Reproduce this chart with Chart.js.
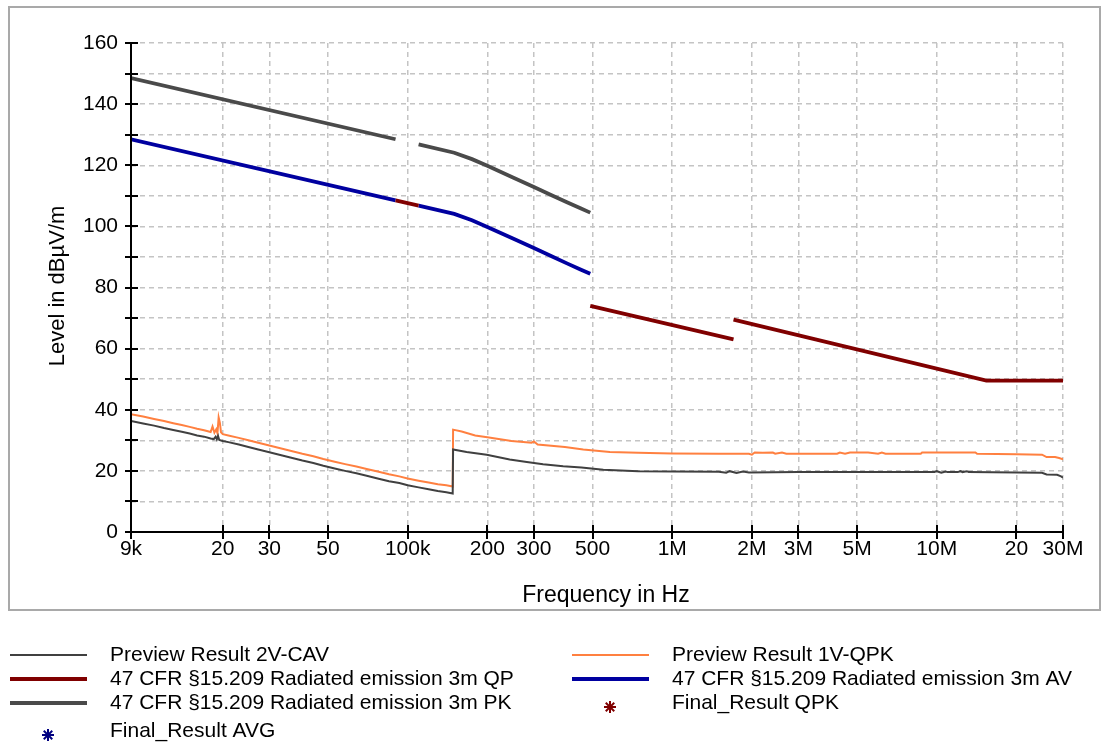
<!DOCTYPE html>
<html>
<head>
<meta charset="utf-8">
<script src="https://cdn.jsdelivr.net/npm/chart.js@4.4.1/dist/chart.umd.min.js"></script>
<style>
  html, body { margin: 0; padding: 0; background: #fff; }
  canvas { display: block; }
</style>
</head>
<body>
<canvas id="emi" width="1104" height="747"></canvas>
<script>
// Axis ticks
const freqTicks = [9e3, 2e4, 3e4, 5e4, 1e5, 2e5, 3e5, 5e5, 1e6, 2e6, 3e6, 5e6, 1e7, 2e7, 3e7];
const freqTickLabels = ['9k', '20', '30', '50', '100k', '200', '300', '500', '1M', '2M', '3M', '5M', '10M', '20', '30M'];
const levelTicks = [0, 20, 40, 60, 80, 100, 120, 140, 160];

// Preview Result 2V-CAV (Hz, dBµV/m)
const cavFreq = [9000, 10000, 11000, 12000, 13000, 14000, 15000, 16000, 17000, 18000,
  18500, 18800, 19000, 19200, 19400,
  20000, 21000, 23000, 25000, 27000, 30000, 33000, 36000, 40000, 44000, 48000, 53000, 58000, 64000, 70000, 77000, 85000, 93000, 100000,
  110000, 120000, 130000, 140000, 148000,
  148500, 167000, 199000, 243000, 282000, 325000, 387000, 454000, 549000, 744000,
  1000000, 1500000, 1600000, 1650000, 1750000, 1850000, 1950000,
  3000000, 5000000, 9800000, 10000000, 10400000, 10800000, 11000000, 12000000, 12300000, 12500000, 13000000, 13200000,
  20000000, 25000000, 26000000, 28500000, 29500000, 30000000];
const cavLevel = [36.3, 35.5, 34.8, 34.0, 33.4, 32.8, 32.2, 31.6, 31.2, 30.6,
  30.4, 31.2, 30.3, 31.4, 30.1,
  29.8, 29.4, 28.6, 27.8, 27.1, 26.1, 25.2, 24.4, 23.4, 22.6, 21.7, 20.8, 20.0, 19.2, 18.4, 17.5, 16.6, 16.0, 15.3,
  14.6, 14.0, 13.4, 13.0, 12.6,
  27.0, 26.2, 25.3, 23.7, 22.9, 22.2, 21.5, 21.1, 20.4, 19.9,
  19.8, 19.7, 19.4, 19.9, 19.3, 19.8, 19.5,
  19.6, 19.6, 19.6, 19.9, 19.4, 19.8, 19.6, 19.6, 19.9, 19.6, 19.9, 19.6,
  19.5, 19.4, 18.8, 18.7, 18.2, 17.8];

// Preview Result 1V-QPK (Hz, dBµV/m)
const qpkFreq = [9000, 10000, 11000, 12000, 13000, 14000, 15000, 16000, 17000, 18000,
  18300, 18600, 18900, 19100, 19300, 19500, 19700,
  20000, 21000, 23000, 25000, 27000, 30000, 33000, 36000, 40000, 44000, 48000, 53000, 58000, 64000, 70000, 77000, 85000, 93000, 100000,
  110000, 120000, 130000, 140000, 148000,
  148500, 160000, 180000, 200000, 247000, 294000, 300000, 310000, 393000, 461000, 581000, 744000,
  1000000, 1500000, 1950000, 2000000, 2050000, 2200000, 2400000, 2450000, 2600000, 2700000,
  3500000, 4200000, 4300000, 4500000, 4700000, 5500000, 6000000, 6200000, 6400000,
  8700000, 8800000, 14000000, 14200000,
  20000000, 25000000, 26000000, 28000000, 29000000, 30000000];
const qpkLevel = [38.5, 37.8, 37.0, 36.3, 35.6, 35.0, 34.4, 33.8, 33.3, 32.7,
  34.5, 32.5, 33.6, 32.3, 37.5, 35.8, 32.6,
  32.0, 31.6, 30.8, 30.0, 29.3, 28.3, 27.4, 26.6, 25.6, 24.8, 23.9, 23.0, 22.2, 21.4, 20.6, 19.8, 18.9, 18.2, 17.5,
  16.8, 16.2, 15.6, 15.3, 14.9,
  33.5, 32.9, 31.6, 31.0, 29.8, 29.2, 29.6, 28.6, 27.8, 27.0, 26.2, 25.9,
  25.7, 25.6, 25.6, 25.3, 26.0, 25.9, 26.0, 25.6, 26.0, 25.6,
  25.6, 25.6, 26.0, 25.6, 26.0, 26.0, 25.6, 26.0, 25.6,
  25.6, 26.0, 26.0, 25.6,
  25.4, 25.3, 24.5, 24.5, 24.2, 23.8];

// 47 CFR §15.209 limits at 3 m (null = no limit defined in that band)
const pkFreq = [9000, 90000, 100000, 110000, 150000, 175000, 200000, 250000, 300000, 350000, 400000, 450000, 490000];
const pkLevel = [148.5, 128.5, null, 126.8, 124.1, 122.0, 119.8, 116.0, 112.9, 110.2, 107.9, 105.9, 104.5];
const avFreq = [9000, 90000, 100000, 110000, 150000, 175000, 200000, 250000, 300000, 350000, 400000, 450000, 490000];
const avLevel = [128.5, 108.5, null, 106.8, 104.1, 102.0, 99.8, 96.0, 92.9, 90.2, 87.9, 85.9, 84.5];
const qpFreq = [90000, 110000, 300000, 490000, 1705000, 1705000, 1705000, 15400000, 30000000];
const qpLevel = [108.5, 106.8, null, 74.0, 63.0, null, 69.5, 49.5, 49.5];

// Final results (no final measurements recorded)
const finalQpkFreq = [];
const finalQpkLevel = [];
const finalAvgFreq = [];
const finalAvgLevel = [];

const pairs = (xs, ys) => xs.map((x, i) => ({ x: x, y: ys[i] }));

const FONT = '"Liberation Sans", Arial, sans-serif';

const lineSet = (label, xs, ys, color, width) => ({
  label, data: pairs(xs, ys), borderColor: color, backgroundColor: color,
  borderWidth: width, pointRadius: 0, tension: 0, spanGaps: false, fill: false
});
const markSet = (label, xs, ys, color) => ({
  label, data: pairs(xs, ys), borderColor: color, backgroundColor: color,
  showLine: false, pointStyle: 'star', pointRadius: 6, borderWidth: 2
});

const datasets = [
  lineSet('Preview Result 2V-CAV', cavFreq, cavLevel, '#404040', 2),
  lineSet('Preview Result 1V-QPK', qpkFreq, qpkLevel, '#ff8040', 2),
  lineSet('47 CFR §15.209 Radiated emission 3m QP', qpFreq, qpLevel, '#800000', 3.8),
  lineSet('47 CFR §15.209 Radiated emission 3m AV', avFreq, avLevel, '#0000a0', 3.8),
  lineSet('47 CFR §15.209 Radiated emission 3m PK', pkFreq, pkLevel, '#4a4a4a', 3.8),
  markSet('Final_Result QPK', finalQpkFreq, finalQpkLevel, '#800000'),
  markSet('Final_Result AVG', finalAvgFreq, finalAvgLevel, '#000080')
];

// Legend grid: [sample x start, text x, row y]
const legendSlots = [
  [10, 110, 655], [572, 672, 655],
  [10, 110, 679], [572, 672, 679],
  [10, 110, 703], [572, 672, 703],
  [10, 110, 731]
];

const panelPlugin = {
  id: 'panel',
  beforeDraw(chart) {
    const ctx = chart.ctx;
    ctx.save();
    ctx.fillStyle = '#ffffff';
    ctx.fillRect(0, 0, chart.width, chart.height);
    ctx.strokeStyle = '#a9a9a9';
    ctx.lineWidth = 2;
    ctx.strokeRect(9, 7, 1091, 603);
    ctx.restore();
  },
  afterDraw(chart) {
    const { ctx, chartArea: a, scales: { x, y } } = chart;
    ctx.save();
    // solid axes with ticks crossing the axis line
    ctx.strokeStyle = '#000';
    ctx.lineWidth = 2;
    ctx.beginPath();
    ctx.moveTo(a.left, a.top - 1);
    ctx.lineTo(a.left, a.bottom);
    ctx.lineTo(a.right + 1, a.bottom);
    y.ticks.forEach(t => {
      const py = Math.round(y.getPixelForValue(t.value));
      ctx.moveTo(a.left - 6, py); ctx.lineTo(a.left + 7, py);
    });
    x.ticks.forEach(t => {
      const px = Math.round(x.getPixelForValue(t.value));
      ctx.moveTo(px, a.bottom - 7); ctx.lineTo(px, a.bottom + 7);
    });
    ctx.stroke();

    // axis titles
    ctx.fillStyle = '#000';
    ctx.textAlign = 'center';
    ctx.textBaseline = 'middle';
    ctx.font = '23px ' + FONT;
    ctx.fillText('Frequency in Hz', 606, 596);
    ctx.save();
    ctx.translate(58, 286);
    ctx.rotate(-Math.PI / 2);
    ctx.font = '22px ' + FONT;
    ctx.fillText('Level in dBµV/m', 0, 0);
    ctx.restore();

    // legend
    ctx.textAlign = 'left';
    ctx.font = '21px ' + FONT;
    chart.data.datasets.forEach((ds, i) => {
      const [sx, tx, ry] = legendSlots[i];
      ctx.strokeStyle = ds.borderColor;
      if (ds.showLine === false) {
        // asterisk marker sample
        const cx = sx + 38, cy = ry + 4, r = 6;
        ctx.lineWidth = 2;
        ctx.beginPath();
        for (let k = 0; k < 4; k++) {
          const ang = k * Math.PI / 4;
          ctx.moveTo(cx - r * Math.cos(ang), cy - r * Math.sin(ang));
          ctx.lineTo(cx + r * Math.cos(ang), cy + r * Math.sin(ang));
        }
        ctx.stroke();
      } else {
        ctx.lineWidth = ds.borderWidth > 3 ? 4 : 2;
        ctx.beginPath();
        ctx.moveTo(sx, ry); ctx.lineTo(sx + 77, ry);
        ctx.stroke();
      }
      ctx.fillStyle = '#000';
      ctx.fillText(ds.label, tx, ry);
    });
    ctx.restore();
  }
};

new Chart(document.getElementById('emi'), {
  type: 'line',
  data: { datasets },
  options: {
    responsive: false,
    animation: false,
    devicePixelRatio: 1,
    layout: { padding: { top: 43, left: 0, right: 41, bottom: 155 } },
    plugins: { legend: { display: false }, tooltip: { enabled: false } },
    scales: {
      x: {
        type: 'logarithmic',
        min: 9e3,
        max: 3e7,
        afterBuildTicks: s => { s.ticks = freqTicks.map(v => ({ value: v })); },
        afterFit: s => { s.height = 60; },
        grid: { color: '#c4c4c4', lineWidth: 1.5, drawTicks: false, borderDash: [5, 4] },
        border: { display: false, dash: [5, 4] },
        ticks: {
          autoSkip: false, maxRotation: 0, minRotation: 0, padding: 5,
          color: '#000', font: { family: FONT, size: 21 },
          callback: (v, i) => freqTickLabels[i]
        }
      },
      y: {
        min: 0,
        max: 160,
        afterFit: s => { s.width = 131; },
        grid: { color: '#c4c4c4', lineWidth: 1.5, drawTicks: false, borderDash: [5, 4] },
        border: { display: false, dash: [5, 4] },
        ticks: {
          stepSize: 10, padding: 13, color: '#000', font: { family: FONT, size: 21 },
          callback: v => (levelTicks.includes(v) ? String(v) : '')
        }
      }
    }
  },
  plugins: [panelPlugin]
});
</script>
</body>
</html>
